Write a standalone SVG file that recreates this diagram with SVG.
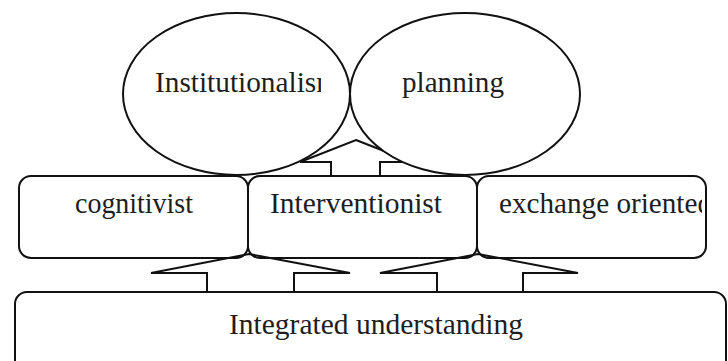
<svg xmlns="http://www.w3.org/2000/svg" width="728" height="361" viewBox="0 0 728 361">
<style>
.shape{fill:#fff;stroke:#111;stroke-width:2}
.arrow{fill:#fff;stroke:#111;stroke-width:2;stroke-linejoin:miter}
.arrow-open{fill:none;stroke:#111;stroke-width:2;stroke-linejoin:miter}
.label{font-family:"Liberation Serif","DejaVu Serif",serif;font-size:28.5px;fill:#1e1e1e}
</style>
<defs>
<clipPath id="clipInst"><rect x="120" y="60" width="201" height="45"/></clipPath>
<clipPath id="clipExch"><rect x="480" y="185" width="222" height="45"/></clipPath>
</defs>
<rect width="728" height="361" fill="#fff"/>
<g id="connectors">
<polygon class="arrow" points="356,140 412,162 380,162 380,177 331,177 331,162 300,162"/>
</g>
<g id="node-institutionalism">
<ellipse class="shape" cx="236.5" cy="94" rx="113.5" ry="81"/>
<text class="label" x="155" y="92" textLength="184" lengthAdjust="spacingAndGlyphs" clip-path="url(#clipInst)">Institutionalism</text>
</g>
<g id="node-planning">
<ellipse class="shape" cx="465" cy="94" rx="115" ry="81"/>
<text class="label" x="402" y="92" textLength="102" lengthAdjust="spacingAndGlyphs">planning</text>
</g>
<g id="node-cognitivist">
<rect class="shape" x="19" y="176" width="229" height="82" rx="12"/>
<text class="label" x="75" y="213" textLength="118" lengthAdjust="spacingAndGlyphs">cognitivist</text>
</g>
<g id="node-interventionist">
<rect class="shape" x="248" y="176" width="229" height="82" rx="12"/>
<text class="label" x="270" y="213" textLength="172" lengthAdjust="spacingAndGlyphs">Interventionist</text>
</g>
<g id="node-exchange">
<rect class="shape" x="477" y="176" width="229" height="82" rx="12"/>
<text class="label" x="499" y="213" textLength="213" lengthAdjust="spacingAndGlyphs" clip-path="url(#clipExch)">exchange oriented</text>
</g>
<g id="node-integrated">
<rect class="shape" x="15" y="292" width="711" height="90" rx="12"/>
<text class="label" x="229" y="334" textLength="294" lengthAdjust="spacingAndGlyphs">Integrated understanding</text>
</g>
<g id="connectors-lower">
<polygon class="arrow-open" points="249,254 350,273 294,273 294,292 207,292 207,273 151,273"/>
<polygon class="arrow-open" points="478,254 578,273 523,273 523,292 437,292 437,273 380,273"/>
</g>
</svg>
